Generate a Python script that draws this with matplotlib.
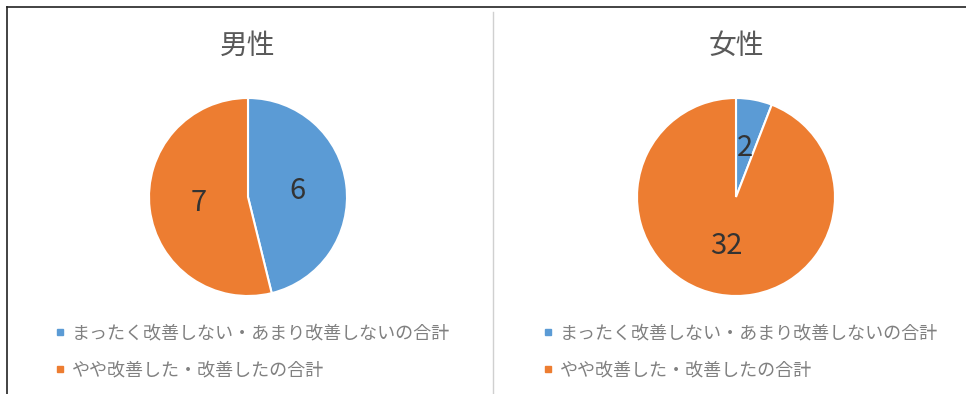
import matplotlib
matplotlib.use("Agg")
import matplotlib.pyplot as plt
from matplotlib.lines import Line2D

plt.rcParams['font.family'] = ['Noto Sans CJK JP', 'DejaVu Sans']

categories = ["まったく改善しない・あまり改善しないの合計", "やや改善した・改善したの合計"]
groups = ["男性", "女性"]
male_values = [6, 7]
female_values = [2, 32]
colors = ["#5B9BD5", "#ED7D31"]

W, H = 966, 394
fig = plt.figure(figsize=(W / 100, H / 100), dpi=100)
fig.patch.set_facecolor("white")


def fx(px):
    return px / W


def fy(py):
    return 1 - py / H


# panel frame lines
fig.add_artist(Line2D([fx(7), 1], [fy(7), fy(7)], color="#222222", lw=1.2))
fig.add_artist(Line2D([fx(7), fx(7)], [fy(7), 0], color="#222222", lw=1.2))
fig.add_artist(Line2D([fx(493), fx(493)], [fy(12), 0], color="#d0d0d0", lw=1.0))

centers_x = [248, 736]
cy, r = 197, 99

for cx, title, vals in zip(centers_x, groups, [male_values, female_values]):
    ax = fig.add_axes([fx(cx - r), fy(cy + r), fx(2 * r), (2 * r) / H])
    wedges, texts = ax.pie(
        vals, colors=colors, startangle=90, counterclock=False,
        labels=[str(v) for v in vals], labeldistance=0.5,
        wedgeprops=dict(edgecolor="white", linewidth=1.5),
        textprops=dict(fontsize=21, color="#333333", ha="center", va="center"),
        radius=1.0,
    )
    ax.set_xlim(-1, 1)
    ax.set_ylim(-1, 1)
    ax.set_aspect("auto")
    ax.axis("off")

    fig.text(fx(cx), fy(46), title, ha="center", va="center",
             fontsize=20, color="#595959")

    handles = [Line2D([], [], marker="s", linestyle="none", markersize=4.5,
                      markerfacecolor=c, markeredgecolor=c) for c in colors]
    fig.legend(handles, categories, loc="upper left",
               bbox_to_anchor=(fx(cx - 193), fy(324)), frameon=False,
               fontsize=13, labelcolor="#808080", handlelength=0.6,
               handletextpad=0.35, labelspacing=1.05, borderpad=0,
               borderaxespad=0)

fig.savefig("out.png", dpi=100, facecolor="white")
